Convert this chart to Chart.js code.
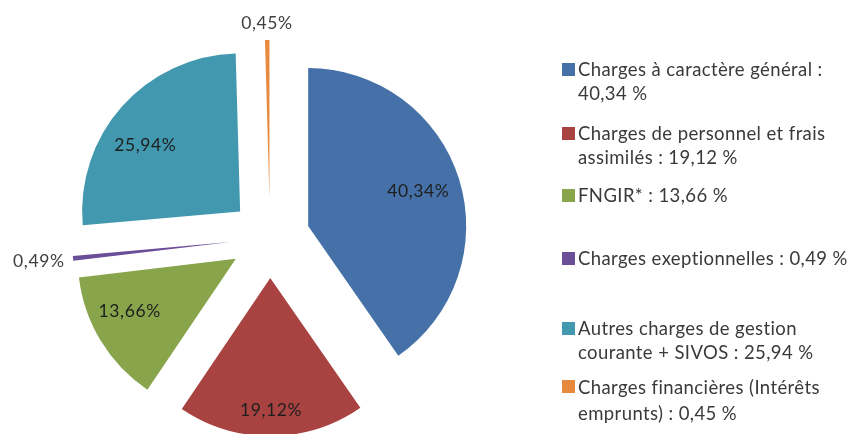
<!DOCTYPE html>
<html>
<head>
<meta charset="utf-8">
<script src="https://cdn.jsdelivr.net/npm/chart.js@4"></script>
<style>
  html, body { margin: 0; padding: 0; background: #ffffff; }
  #wrap { position: relative; width: 852px; height: 434px; overflow: hidden; }
  #c { position: absolute; left: 0; top: 0; }
  .lg { position: absolute; left: 562px; font-family: Lato, sans-serif; font-size: 18.5px; line-height: 24px; letter-spacing: 0.4px; color: #3a3a3a; }
  .lg .sw { position: absolute; left: 0; top: 6px; width: 13px; height: 13px; }
  .lg .tx { margin-left: 16px; white-space: nowrap; }
</style>
</head>
<body>
<div id="wrap">
  <canvas id="c" width="852" height="434"></canvas>
  <div id="legend"></div>
</div>
<script>
// ---- data ----
const categories = [
  "Charges à caractère général",
  "Charges de personnel et frais assimilés",
  "FNGIR*",
  "Charges exeptionnelles",
  "Autres charges de gestion courante + SIVOS",
  "Charges financières (Intérêts emprunts)"
];
const values = [40.34, 19.12, 13.66, 0.49, 25.94, 0.45];
const sliceLabels = ["40,34%", "19,12%", "13,66%", "0,49%", "25,94%", "0,45%"];
const legendLines = [
  ["Charges à caractère général :", "40,34 %"],
  ["Charges de personnel et frais", "assimilés : 19,12 %"],
  ["FNGIR* : 13,66 %"],
  ["Charges exeptionnelles : 0,49 %"],
  ["Autres charges de gestion", "courante + SIVOS : 25,94 %"],
  ["Charges financières (Intérêts", "emprunts) : 0,45 %"]
];

// ---- styles ----
const colors = ["#4571A8", "#A94341", "#88A54B", "#6B4E98", "#4198AF", "#E78A3E"];
const EXPLODE = 40;      // px each slice is pulled out of the centre
const RADIUS = 158;
const legendTops = [57, 121, 183, 246, 316, 374];
const labelPlacement = [
  { frac: 0.73, shift: 0, inside: true },
  { frac: 0.84, shift: 0, inside: true },
  { frac: 0.75, shift: 5, inside: true },
  { inside: false },
  { frac: 0.73, shift: -7, inside: true },
  { inside: false }
];

// legend (HTML text)
const lg = document.getElementById('legend');
legendLines.forEach((lines, i) => {
  const d = document.createElement('div');
  d.className = 'lg';
  d.style.top = legendTops[i] + 'px';
  if (i === 5) d.style.lineHeight = '26px';
  const sw = document.createElement('div');
  sw.className = 'sw';
  sw.style.background = colors[i];
  d.appendChild(sw);
  lines.forEach(t => {
    const s = document.createElement('div');
    s.className = 'tx';
    s.textContent = t;
    d.appendChild(s);
  });
  lg.appendChild(d);
});

// pull every slice EXPLODE px outwards along its mid-angle (drawn by Chart.js ArcElement)
const explodePlugin = {
  id: 'explode',
  beforeDatasetsDraw(chart) {
    chart.getDatasetMeta(0).data.forEach(arc => {
      if (arc._exploded) return;
      arc._exploded = true;
      const baseDraw = Chart.ArcElement.prototype.draw;
      arc.draw = function (ctx, area) {
        const mid = (this.startAngle + this.endAngle) / 2;
        ctx.save();
        ctx.translate(Math.cos(mid) * EXPLODE, Math.sin(mid) * EXPLODE);
        baseDraw.call(this, ctx, area);
        ctx.restore();
      };
    });
  }
};

const labelPlugin = {
  id: 'sliceLabels',
  afterDatasetsDraw(chart) {
    const ctx = chart.ctx;
    const meta = chart.getDatasetMeta(0);
    ctx.save();
    ctx.font = '17.5px Lato, sans-serif';
    if ('letterSpacing' in ctx) ctx.letterSpacing = '0.6px';
    ctx.textAlign = 'center';
    ctx.textBaseline = 'middle';
    meta.data.forEach((arc, i) => {
      const p = arc.getProps(['x', 'y', 'startAngle', 'endAngle', 'outerRadius'], true);
      const mid = (p.startAngle + p.endAngle) / 2;
      const ax = p.x + Math.cos(mid) * EXPLODE;
      const ay = p.y + Math.sin(mid) * EXPLODE;
      const pl = labelPlacement[i];
      const txt = sliceLabels[i];
      if (pl.inside) {
        const a = mid + pl.shift * Math.PI / 180;
        const r = p.outerRadius * pl.frac;
        ctx.fillStyle = '#1e1e1e';
        ctx.fillText(txt, ax + Math.cos(a) * r, ay + Math.sin(a) * r);
      } else {
        const w = ctx.measureText(txt).width;
        const h = 16;
        const dx = Math.cos(mid), dy = Math.sin(mid);
        const r = p.outerRadius + 8 + Math.abs(dx) * w / 2 + Math.abs(dy) * h / 2;
        ctx.fillStyle = '#404040';
        ctx.fillText(txt, ax + dx * r, ay + dy * r);
      }
    });
    ctx.restore();
  }
};

new Chart(document.getElementById('c'), {
  type: 'pie',
  data: {
    labels: categories,
    datasets: [{
      data: values,
      backgroundColor: colors,
      borderWidth: 0,
      hoverOffset: 0,
      clip: false
    }]
  },
  options: {
    responsive: false,
    animation: false,
    devicePixelRatio: 1,
    events: [],
    radius: RADIUS,
    layout: { padding: { left: 0, right: 312, top: 42, bottom: 0 } },
    plugins: {
      legend: { display: false },
      tooltip: { enabled: false }
    }
  },
  plugins: [explodePlugin, labelPlugin]
});
</script>
</body>
</html>
